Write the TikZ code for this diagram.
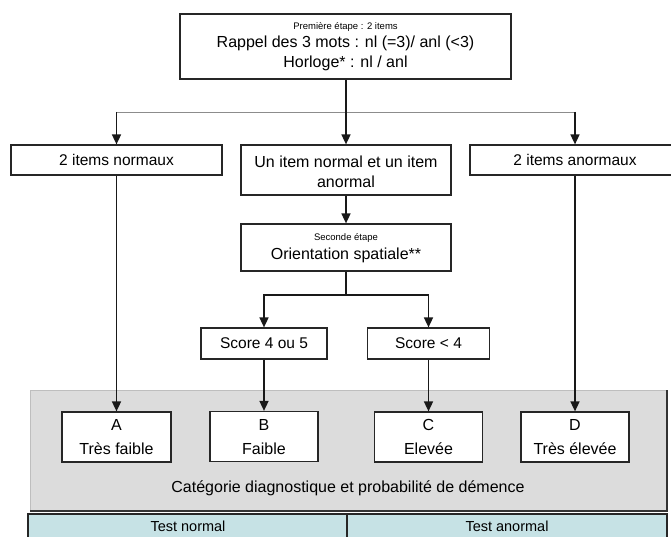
\documentclass[tikz,border=0pt]{standalone}
\usepackage{fontspec}
\setmainfont{Liberation Sans}
\usetikzlibrary{arrows.meta}
\definecolor{panelgray}{RGB}{220,220,220}
\definecolor{paneledge}{RGB}{190,190,190}
\definecolor{tablecol}{RGB}{198,226,229}
\tikzset{
  boxnode/.style={draw=black!85, line width=1.2pt, fill=white, inner sep=0pt, align=center,
    font=\fontsize{15.5}{19}\selectfont},
  conn/.style={draw=black!90, line width=1.6pt},
  arr/.style={conn, -{Triangle[length=10pt,width=9pt]}},
  thinbranch/.style={draw=black!45, line width=0.9pt},
  smalltxt/.style={font=\fontsize{9.5}{11}\selectfont, inner sep=0pt},
  bigtxt/.style={font=\fontsize{16}{19}\selectfont, inner sep=0pt},
  tabtxt/.style={font=\fontsize{14.5}{17}\selectfont, inner sep=0pt},
}
\begin{document}
\begin{tikzpicture}[x=1pt,y=-1pt]
\useasboundingbox (0,0) rectangle (671,537);
% panel and table
\fill[panelgray] (30,390) rectangle (667,511);
\draw[paneledge, line width=0.8pt] (30,511) -- (30,390) -- (667,390);
\draw[black!80, line width=1.2pt] (30,511) -- (667,511) -- (667,390);
\path[fill=tablecol, draw=black!85, line width=1.2pt] (28,514) rectangle (667,548);
\draw[black!85, line width=1.2pt] (347,514) -- (347,548);
\node[tabtxt] (tn) at (188,526.5) {Test normal};
\node[tabtxt] (ta) at (507,526.5) {Test anormal};
\node[bigtxt] (cat) at (348,488) {Catégorie diagnostique et probabilité de démence};
% boxes
\node[boxnode, minimum width=331pt, minimum height=65pt] (top) at (345.5,46.5) {};
\node[smalltxt] (t1) at (345.5,27) {Première étape : 2 items};
\node[bigtxt] (t2) at (345.5,43) {Rappel des 3 mots : nl (=3)/ anl (<3)};
\node[bigtxt] (t3) at (345.5,63) {Horloge* : nl / anl};

\node[boxnode, minimum width=211pt, minimum height=30pt] (n1) at (116.5,160) {2 items normaux};
\node[boxnode, minimum width=210pt, minimum height=50pt] (n2) at (346,170) {};
\node[bigtxt] (n2a) at (346,162) {Un item normal et un item};
\node[bigtxt] (n2b) at (346,182) {anormal};
\node[boxnode, minimum width=210pt, minimum height=30pt] (n3) at (575,160) {2 items anormaux};

\node[boxnode, minimum width=210pt, minimum height=47pt] (sec) at (346,247.5) {};
\node[smalltxt] (sec1) at (346,238) {Seconde étape};
\node[bigtxt] (sec2) at (346,255) {Orientation spatiale**};

\node[boxnode, minimum width=126pt, minimum height=31pt] (s1) at (264,343.5) {Score 4 ou 5};
\node[boxnode, minimum width=122pt, minimum height=31pt] (s2) at (428.5,343.5) {Score < 4};

\node[boxnode, minimum width=109pt, minimum height=50pt] (A) at (116.5,437) {};
\node[bigtxt] (Aa) at (116.5,425) {A};
\node[bigtxt] (Ab) at (116.5,449) {Très faible};
\node[boxnode, minimum width=108pt, minimum height=50pt] (B) at (264,436.5) {};
\node[bigtxt] (Ba) at (264,424.5) {B};
\node[bigtxt] (Bb) at (264,448.5) {Faible};
\node[boxnode, minimum width=108pt, minimum height=50pt] (C) at (428.5,437) {};
\node[bigtxt] (Ca) at (428.5,425) {C};
\node[bigtxt] (Cb) at (428.5,449) {Elevée};
\node[boxnode, minimum width=108pt, minimum height=50pt] (D) at (575,437) {};
\node[bigtxt] (Da) at (575,425) {D};
\node[bigtxt] (Db) at (575,449) {Très élevée};

% connectors
\coordinate (j1) at (346,112);
\coordinate (j2) at (346,295);
\draw[thinbranch] (n1.north |- j1) -- (n3.north |- j1);
\draw[arr] (n1.north |- j1) -- (n1.north);
\draw[arr] (n3.north |- j1) -- (n3.north);
\draw[arr] (top.south -| n2.north) -- (n2.north);
\draw[arr] (n2.south) -- (sec.north);
\draw[conn] (sec.south) -- (j2);
\draw[arr] (j2) -| (s1.north);
\draw[arr] (j2) -| (s2.north);
\draw[arr] (n1.south) -- (A.north);
\draw[arr] (n3.south) -- (D.north);
\draw[arr] (s1.south) -- (B.north);
\draw[arr] (s2.south) -- (C.north);
\end{tikzpicture}
\end{document}
